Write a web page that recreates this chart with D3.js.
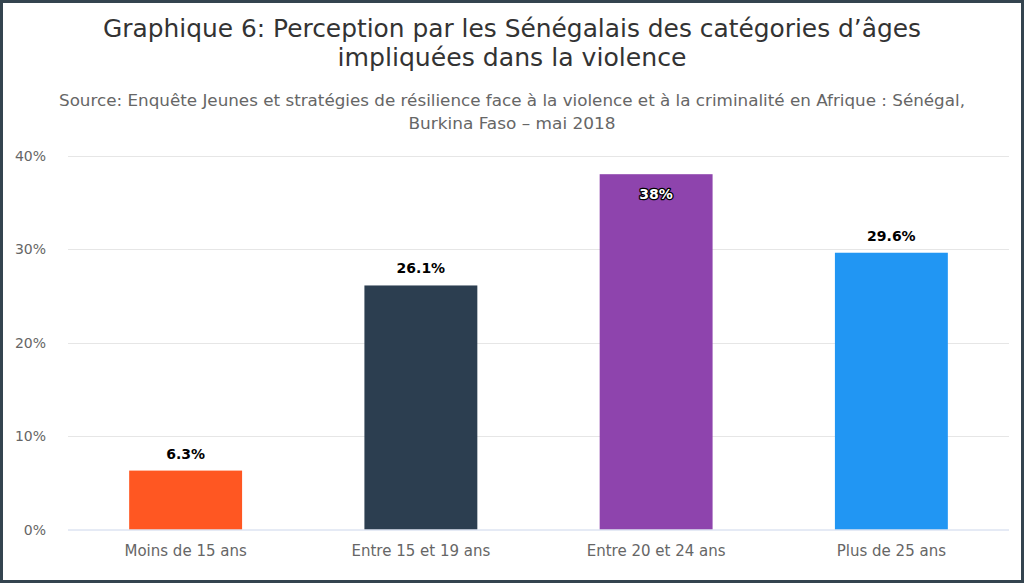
<!DOCTYPE html>
<html><head><meta charset="utf-8">
<script src="https://cdn.jsdelivr.net/npm/d3@7"></script>
<style>
html,body{margin:0;padding:0;background:#fff;}
svg{display:block;}
</style></head>
<body>
<svg id="c" width="1024" height="583"></svg>
<script>
const categories = ["Moins de 15 ans", "Entre 15 et 19 ans", "Entre 20 et 24 ans", "Plus de 25 ans"];
const values = [6.3, 26.1, 38, 29.6];
const colors = ["#FF5722", "#2C3E50", "#8E44AD", "#2196F3"];
const yTicks = [0, 10, 20, 30, 40];
const titleLines = ["Graphique 6: Perception par les Sénégalais des catégories d’âges", "impliquées dans la violence"];
const subtitleLines = ["Source: Enquête Jeunes et stratégies de résilience face à la violence et à la criminalité en Afrique : Sénégal,", "Burkina Faso – mai 2018"];

const W = 1024, H = 583;
const svg = d3.select("#c");
const font = "'DejaVu Sans', sans-serif";

// border
svg.append("rect").attr("x", 0).attr("y", 0).attr("width", W).attr("height", H).attr("fill", "#34444f");
svg.append("rect").attr("x", 3).attr("y", 3).attr("width", W - 6).attr("height", H - 6).attr("fill", "#fff");

const margin = {left: 68, right: 1009, top: 155.5, bottom: 529.5};
const x = d3.scaleBand().domain(categories).range([margin.left, margin.right]).paddingInner(0.52).paddingOuter(0.26);
const y = d3.scaleLinear().domain([0, 40]).range([margin.bottom, margin.top]);

// title
svg.selectAll("text.title").data(titleLines).enter().append("text")
  .attr("class", "title")
  .attr("x", W / 2).attr("y", (d, i) => 37 + i * 29)
  .attr("text-anchor", "middle")
  .attr("font-family", font)
  .attr("font-size", 25).attr("fill", "#333")
  .text(d => d)
  .attr("textLength", (d, i) => i === 0 ? 818 : 349)
  .attr("lengthAdjust", "spacingAndGlyphs");

svg.selectAll("text.sub").data(subtitleLines).enter().append("text")
  .attr("class", "sub")
  .attr("x", W / 2).attr("y", (d, i) => 106 + i * 23)
  .attr("text-anchor", "middle")
  .attr("font-family", font)
  .attr("font-size", 15).attr("fill", "#666")
  .text(d => d)
  .attr("textLength", (d, i) => i === 0 ? 906 : 207)
  .attr("lengthAdjust", "spacingAndGlyphs");

// gridlines
svg.append("g").selectAll("line").data(yTicks.filter(t => t > 0)).enter().append("line")
  .attr("x1", margin.left).attr("x2", margin.right)
  .attr("y1", d => Math.round(y(d)) + 0.5).attr("y2", d => Math.round(y(d)) + 0.5)
  .attr("stroke", "#e6e6e6").attr("stroke-width", 1);

// y labels
svg.append("g").selectAll("text").data(yTicks).enter().append("text")
  .attr("x", 46).attr("y", d => y(d) + 5)
  .attr("text-anchor", "end")
  .attr("font-family", font).attr("font-size", 14).attr("fill", "#666")
  .text(d => d + "%");

// bars
svg.append("g").selectAll("rect").data(values).enter().append("rect")
  .attr("x", (d, i) => x(categories[i]))
  .attr("width", x.bandwidth())
  .attr("y", d => y(d))
  .attr("height", d => y(0) - y(d))
  .attr("fill", (d, i) => colors[i]);

// x axis line
svg.append("line").attr("x1", margin.left).attr("x2", margin.right)
  .attr("y1", margin.bottom + 0.5).attr("y2", margin.bottom + 0.5)
  .attr("stroke", "#ccd6eb").attr("stroke-width", 1);

// x labels
svg.append("g").selectAll("text").data(categories).enter().append("text")
  .attr("x", d => x(d) + x.bandwidth() / 2).attr("y", 556)
  .attr("text-anchor", "middle")
  .attr("font-family", font).attr("font-size", 15).attr("fill", "#666")
  .text(d => d);

// data labels
const lbl = svg.append("g").selectAll("text").data(values).enter().append("text")
  .attr("x", (d, i) => x(categories[i]) + x.bandwidth() / 2)
  .attr("text-anchor", "middle")
  .attr("font-family", font).attr("font-size", 14).attr("font-weight", "bold")
  .text(d => d + "%");
lbl.each(function(d){
  const top = y(d);
  const s = d3.select(this);
  if (top - 25 < margin.top) {
    s.attr("y", top + 25).attr("fill", "#fff").attr("stroke", "#000").attr("stroke-width", 2.5)
     .attr("stroke-linejoin", "round").attr("paint-order", "stroke");
  } else {
    s.attr("y", top - 12).attr("fill", "#000");
  }
});
</script>
</body></html>
